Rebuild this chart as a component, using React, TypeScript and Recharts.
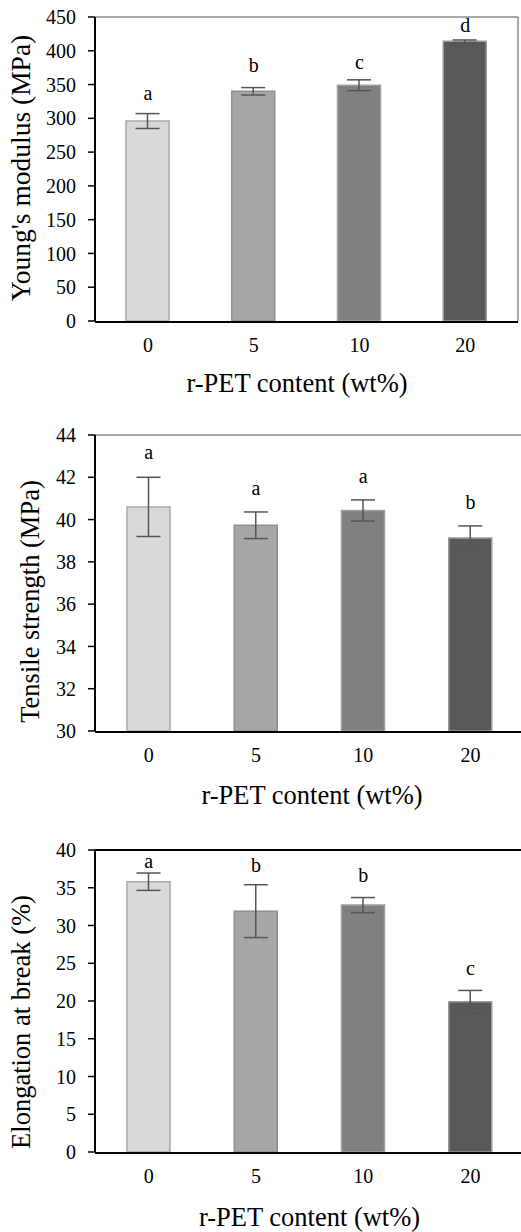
import React from 'react';
import { ComposedChart, Bar, XAxis, YAxis, ErrorBar, Scatter, Cell, ReferenceLine, Label } from 'recharts';

const categories = ['0', '5', '10', '20'];

const modulusValues = [296, 340, 349, 414];
const modulusErrors = [11, 5.5, 8, 2];
const modulusLetters = ['a', 'b', 'c', 'd'];
const modulusLetterPos = [327, 369, 372.6, 427.3];
const modulusTicks = [0, 50, 100, 150, 200, 250, 300, 350, 400, 450];

const tensileValues = [40.6, 39.73, 40.43, 39.13];
const tensileErrors = [1.4, 0.63, 0.5, 0.57];
const tensileLetters = ['a', 'a', 'a', 'b'];
const tensileLetterPos = [42.85, 41.16, 41.74, 40.5];
const tensileTicks = [30, 32, 34, 36, 38, 40, 42, 44];

const elongValues = [35.8, 31.9, 32.7, 19.9];
const elongErrors = [1.15, 3.5, 1.0, 1.5];
const elongLetters = ['a', 'b', 'b', 'c'];
const elongLetterPos = [37.57, 37.04, 35.72, 23.4];
const elongTicks = [0, 5, 10, 15, 20, 25, 30, 35, 40];

const edgeTicks = [0, 1, 2, 3, 4];

const barFills = ['#d9d9d9', '#a6a6a6', '#808080', '#595959'];
const barStrokes = ['#a9a9a9', '#8f8f8f', '#a0a0a0', '#9a9a9a'];

const FONT = "'Times New Roman', 'Liberation Serif', serif";

type PanelProps = {
  top: number;
  width: number;
  height: number;
  margin: { top: number; right: number; bottom: number; left: number };
  values: number[];
  errors: number[];
  letters: string[];
  letterPos: number[];
  ticks: number[];
  yLabel: string;
  yLabelX: number;
  yLabelDy: number;
  yLabelSize: number;
  xLabelDx: number;
  xLabelDy: number;
  topStroke: string;
  topWidth: number;
  showRight: boolean;
};

function Panel(p: PanelProps) {
  const data = categories.map((c, i) => ({
    cat: c,
    v: p.values[i],
    e: p.errors[i],
    ly: p.letterPos[i],
    lt: p.letters[i],
  }));
  const yMin = p.ticks[0];
  const yMax = p.ticks[p.ticks.length - 1];
  return (
    <div style={{ position: 'absolute', left: 0, top: p.top }}>
      <ComposedChart width={p.width} height={p.height} data={data} margin={p.margin}>
        <XAxis
          xAxisId="edges"
          type="number"
          domain={[0, 4]}
          ticks={edgeTicks}
          height={1}
          tick={false}
          tickSize={7}
          tickLine={{ stroke: '#000', strokeWidth: 1.5 }}
          axisLine={{ stroke: '#000', strokeWidth: 2 }}
          allowDataOverflow
        />
        <XAxis
          xAxisId="cat"
          dataKey="cat"
          type="category"
          height={1}
          interval={0}
          tickLine={false}
          axisLine={false}
          tickSize={6}
          tickMargin={11}
          tick={{ fontSize: 20, fill: '#000', fontFamily: FONT }}
        >
          <Label
            content={(lp: any) => {
              const vb = lp.viewBox || { x: 95, y: 0, width: 420, height: 0 };
              const x = vb.x + vb.width / 2 + p.xLabelDx;
              const y = vb.y + p.xLabelDy;
              return (
                <text x={x} y={y} textAnchor="middle" fontSize={26.5} fontFamily={FONT} fill="#000">
                  r-PET content (wt%)
                </text>
              );
            }}
          />
        </XAxis>
        <YAxis
          width={95}
          type="number"
          domain={[yMin, yMax]}
          ticks={p.ticks}
          interval={0}
          tickSize={7}
          tickMargin={12}
          tickLine={{ stroke: '#000', strokeWidth: 1.5 }}
          axisLine={{ stroke: '#000', strokeWidth: 2 }}
          tick={{ fontSize: 20, fill: '#000', fontFamily: FONT }}
          allowDataOverflow
        >
          <Label
            content={(lp: any) => {
              const vb = lp.viewBox || { x: 0, y: 0, width: 95, height: 300 };
              const x = vb.x + p.yLabelX;
              const y = vb.y + vb.height / 2 + p.yLabelDy;
              return (
                <text
                  x={x}
                  y={y}
                  transform={`rotate(-90 ${x} ${y})`}
                  textAnchor="middle"
                  fontSize={p.yLabelSize}
                  fontFamily={FONT}
                  fill="#000"
                >
                  {p.yLabel}
                </text>
              );
            }}
          />
        </YAxis>
        {p.showRight ? (
          <YAxis
            yAxisId="right"
            orientation="right"
            width={1}
            type="number"
            domain={[yMin, yMax]}
            tick={false}
            tickLine={false}
            axisLine={{ stroke: '#8c8c8c', strokeWidth: 1.5 }}
            allowDataOverflow
          />
        ) : null}
        <ReferenceLine xAxisId="edges" y={yMax} stroke={p.topStroke} strokeWidth={p.topWidth} />
        <Bar xAxisId="cat" dataKey="v" barSize={43} isAnimationActive={false} strokeWidth={1.5}>
          {data.map((d, i) => (
            <Cell key={d.cat} fill={barFills[i]} stroke={barStrokes[i]} />
          ))}
          <ErrorBar dataKey="e" width={12} stroke="#555555" strokeWidth={1.5} direction="y" />
        </Bar>
        <Scatter
          xAxisId="cat"
          dataKey="ly"
          isAnimationActive={false}
          shape={(sp: any) => (
            <text
              x={sp.cx}
              y={sp.cy}
              textAnchor="middle"
              fontSize={20}
              fontFamily={FONT}
              fill="#000"
            >
              {sp.payload.lt}
            </text>
          )}
        />
      </ComposedChart>
    </div>
  );
}

export default function App() {
  return (
    <div
      style={{
        position: 'absolute',
        left: 0,
        top: 0,
        width: 521,
        height: 1232,
        overflow: 'hidden',
        background: '#fff',
      }}
    >
      <Panel
        top={0}
        width={521}
        height={400}
        margin={{ top: 17, right: 2, bottom: 77, left: 0 }}
        values={modulusValues}
        errors={modulusErrors}
        letters={modulusLetters}
        letterPos={modulusLetterPos}
        ticks={modulusTicks}
        yLabel="Young's modulus (MPa)"
        yLabelX={29.5}
        yLabelDy={-1}
        yLabelSize={27.5}
        xLabelDx={-9.5}
        xLabelDy={71}
        topStroke="#8c8c8c"
        topWidth={1.5}
        showRight
      />
      <Panel
        top={400}
        width={530}
        height={420}
        margin={{ top: 35, right: 6, bottom: 87, left: 0 }}
        values={tensileValues}
        errors={tensileErrors}
        letters={tensileLetters}
        letterPos={tensileLetterPos}
        ticks={tensileTicks}
        yLabel="Tensile strength (MPa)"
        yLabelX={38.8}
        yLabelDy={18.5}
        yLabelSize={26.5}
        xLabelDx={2.5}
        xLabelDy={73}
        topStroke="#8c8c8c"
        topWidth={1.5}
        showRight={false}
      />
      <Panel
        top={820}
        width={530}
        height={412}
        margin={{ top: 30, right: 6, bottom: 78, left: 0 }}
        values={elongValues}
        errors={elongErrors}
        letters={elongLetters}
        letterPos={elongLetterPos}
        ticks={elongTicks}
        yLabel="Elongation at break (%)"
        yLabelX={29.5}
        yLabelDy={21}
        yLabelSize={26.5}
        xLabelDx={0}
        xLabelDy={74.3}
        topStroke="#000"
        topWidth={2}
        showRight={false}
      />
    </div>
  );
}
